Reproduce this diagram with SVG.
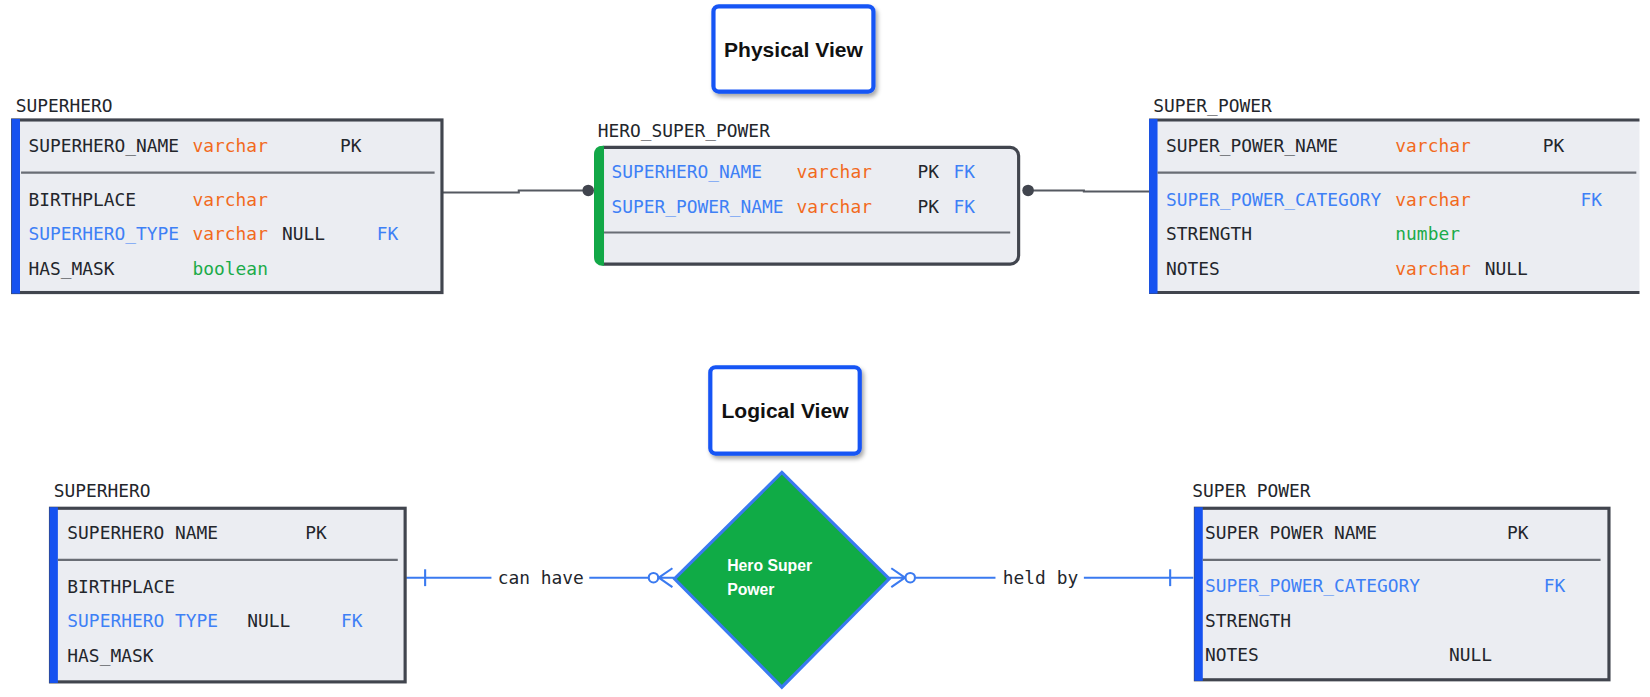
<svg xmlns="http://www.w3.org/2000/svg" width="1650" height="697" viewBox="0 0 1650 697">
<defs>
<style>
.m{font-family:"DejaVu Sans Mono","Liberation Mono",monospace;font-size:17px;fill:#23262c}
.o{fill:#f26a1d}
.g{fill:#1aab49}
.b{fill:#3e80f6}
.tbl{fill:#ebedf2;stroke:#41454e;stroke-width:3}
.fill{fill:#ebedf2}
.edge{stroke:#41454e;stroke-width:3;fill:none}
.sep{stroke:#696d75;stroke-width:2}
.bar{fill:#1652f0}
.title{fill:#fff;stroke:#1654f5;stroke-width:4}
.tt{font-family:"Liberation Sans",Arial,sans-serif;font-weight:bold;font-size:20px;fill:#111;text-anchor:middle}
.pl{stroke:#555961;stroke-width:2;fill:none}
.ll{stroke:#3a7af0;stroke-width:2;fill:none}
.dot{fill:#41454e}
.dt{font-family:"Liberation Sans",Arial,sans-serif;font-weight:bold;font-size:15px;fill:#fff}
</style>
<filter id="sh" x="-20%" y="-20%" width="140%" height="140%">
<feDropShadow dx="2" dy="3" stdDeviation="2" flood-color="#000" flood-opacity="0.35"/>
</filter>
</defs>
<rect width="1650" height="697" fill="#fff"/>
<g transform="scale(1.0523)">

<g id="title-physical">
<rect class="title" x="678" y="6" width="152" height="81" rx="5" filter="url(#sh)"/>
<text class="tt" x="754" y="54">Physical View</text>
</g>

<g id="title-logical">
<rect class="title" x="675" y="349" width="142" height="82" rx="5" filter="url(#sh)"/>
<text class="tt" x="746" y="397">Logical View</text>
</g>

<g id="connectors">
<path class="pl" d="M421,183 H493 V181 H555"/>
<circle class="dot" cx="559" cy="181" r="5.5"/>
<path class="pl" d="M977,181 H1030 V182 H1092"/>
<circle class="dot" cx="977" cy="181" r="5.5"/>
<path class="ll" d="M386,549 H467"/>
<path class="ll" d="M404,541 V557"/>
<text class="m" x="473" y="555">can have</text>
<path class="ll" d="M560,549 H616"/>
<circle class="ll" cx="621" cy="549" r="4.5" fill="#fff"/>
<path class="ll" d="M626,549 H641 M626,549 L639,540 M626,549 L639,558"/>
<path class="ll" d="M845,549 H860 M860,549 L847,540 M860,549 L847,558"/>
<circle class="ll" cx="865" cy="549" r="4.5" fill="#fff"/>
<path class="ll" d="M870,549 H946"/>
<text class="m" x="953" y="555">held by</text>
<path class="ll" d="M1030,549 H1134"/>
<path class="ll" d="M1112,541 V557"/>
</g>

<g id="superhero-physical">
<text class="m" x="15" y="106">SUPERHERO</text>
<rect class="tbl" x="12" y="114" width="408" height="164"/>
<rect class="bar" x="11" y="113" width="8" height="166"/>
<text class="m" x="27" y="144">SUPERHERO_NAME</text>
<text class="m o" x="183" y="144">varchar</text>
<text class="m" x="323" y="144">PK</text>
<line class="sep" x1="20" y1="164" x2="413" y2="164"/>
<text class="m" x="27" y="196">BIRTHPLACE</text>
<text class="m o" x="183" y="196">varchar</text>
<text class="m b" x="27" y="228">SUPERHERO_TYPE</text>
<text class="m o" x="183" y="228">varchar</text>
<text class="m" x="268" y="228">NULL</text>
<text class="m b" x="358" y="228">FK</text>
<text class="m" x="27" y="261">HAS_MASK</text>
<text class="m g" x="183" y="261">boolean</text>
</g>

<g id="hero-super-power">
<text class="m" x="568" y="130">HERO_SUPER_POWER</text>
<rect class="tbl" x="566" y="140" width="402" height="111" rx="8"/>
<path fill="#12a847" d="M574,138.5 V252.5 H573 Q564.5,252.5 564.5,244 V147 Q564.5,138.5 573,138.5 Z"/>
<text class="m b" x="581" y="169">SUPERHERO_NAME</text>
<text class="m o" x="757" y="169">varchar</text>
<text class="m" x="872" y="169">PK</text>
<text class="m b" x="906" y="169">FK</text>
<text class="m b" x="581" y="202">SUPER_POWER_NAME</text>
<text class="m o" x="757" y="202">varchar</text>
<text class="m" x="872" y="202">PK</text>
<text class="m b" x="906" y="202">FK</text>
<line class="sep" x1="574" y1="221" x2="960" y2="221"/>
</g>

<g id="super-power-physical">
<text class="m" x="1096" y="106">SUPER_POWER</text>
<rect class="fill" x="1092" y="114" width="466" height="164"/>
<path class="edge" d="M1558,114 H1093.5 V278 H1558"/>
<rect class="bar" x="1092" y="113" width="8" height="166"/>
<text class="m" x="1108" y="144">SUPER_POWER_NAME</text>
<text class="m o" x="1326" y="144">varchar</text>
<text class="m" x="1466" y="144">PK</text>
<line class="sep" x1="1100" y1="164" x2="1555" y2="164"/>
<text class="m b" x="1108" y="196">SUPER_POWER_CATEGORY</text>
<text class="m o" x="1326" y="196">varchar</text>
<text class="m b" x="1502" y="196">FK</text>
<text class="m" x="1108" y="228">STRENGTH</text>
<text class="m g" x="1326" y="228">number</text>
<text class="m" x="1108" y="261">NOTES</text>
<text class="m o" x="1326" y="261">varchar</text>
<text class="m" x="1411" y="261">NULL</text>
</g>

<g id="hero-super-power-relation">
<polygon points="743,449 845,550 743,653 641,550" fill="#10ab46" stroke="#3a7af0" stroke-width="3"/>
<text class="dt" x="691" y="543">Hero Super</text>
<text class="dt" x="691" y="565">Power</text>
</g>

<g id="superhero-logical">
<text class="m" x="51" y="472">SUPERHERO</text>
<rect class="tbl" x="48" y="483" width="337" height="165"/>
<rect class="bar" x="47" y="482" width="8" height="167"/>
<text class="m" x="64" y="512">SUPERHERO NAME</text>
<text class="m" x="290" y="512">PK</text>
<line class="sep" x1="55" y1="532" x2="378" y2="532"/>
<text class="m" x="64" y="564">BIRTHPLACE</text>
<text class="m b" x="64" y="596">SUPERHERO TYPE</text>
<text class="m" x="235" y="596">NULL</text>
<text class="m b" x="324" y="596">FK</text>
<text class="m" x="64" y="629">HAS_MASK</text>
</g>

<g id="super-power-logical">
<text class="m" x="1133" y="472">SUPER POWER</text>
<rect class="tbl" x="1136" y="483" width="393" height="163"/>
<rect class="bar" x="1135" y="482" width="8" height="165"/>
<text class="m" x="1145" y="512">SUPER POWER NAME</text>
<text class="m" x="1432" y="512">PK</text>
<line class="sep" x1="1143" y1="532" x2="1521" y2="532"/>
<text class="m b" x="1145" y="563">SUPER_POWER_CATEGORY</text>
<text class="m b" x="1467" y="563">FK</text>
<text class="m" x="1145" y="596">STRENGTH</text>
<text class="m" x="1145" y="628">NOTES</text>
<text class="m" x="1377" y="628">NULL</text>
</g>

</g>
</svg>
